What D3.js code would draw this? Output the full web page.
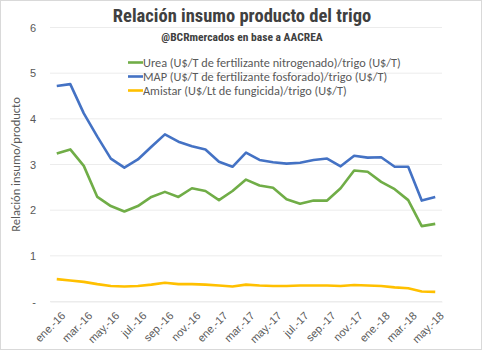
<!DOCTYPE html>
<html>
<head>
<meta charset="utf-8">
<script src="https://cdn.jsdelivr.net/npm/d3@7"></script>
<style>
  body { margin: 0; background: #fff; }
  svg { display: block; font-family: Carlito, Lato, "Open Sans", sans-serif; }
</style>
</head>
<body>
<svg id="chart"></svg>
<script>
// months ene-16 .. may-18
let months = ['ene.-16','feb.-16','mar.-16','abr.-16','may.-16','jun.-16','jul.-16','ago.-16','sep.-16','oct.-16','nov.-16','dic.-16',
  'ene.-17','feb.-17','mar.-17','abr.-17','may.-17','jun.-17','jul.-17','ago.-17','sep.-17','oct.-17','nov.-17','dic.-17',
  'ene.-18','feb.-18','mar.-18','abr.-18','may.-18']

let urea = [3.24,3.33,2.97,2.29,2.09,1.97,2.09,2.29,2.40,2.29,2.48,2.42,2.22,2.42,2.67,2.54,2.49,2.24,2.14,2.21,2.21,2.48,2.87,2.84,2.62,2.46,2.22,1.65,1.70]
let map = [4.72,4.76,4.12,3.61,3.13,2.93,3.11,3.39,3.66,3.50,3.40,3.33,3.06,2.95,3.26,3.10,3.05,3.02,3.04,3.10,3.13,2.96,3.19,3.15,3.16,2.95,2.95,2.21,2.29]
let amistar = [0.49,0.46,0.43,0.38,0.34,0.33,0.34,0.37,0.41,0.38,0.38,0.37,0.35,0.33,0.37,0.35,0.34,0.34,0.35,0.35,0.35,0.34,0.36,0.35,0.34,0.31,0.29,0.22,0.21]

let seriesNames = ['Urea (U$/T de fertilizante nitrogenado)/trigo (U$/T)',
  'MAP (U$/T de fertilizante fosforado)/trigo (U$/T)',
  'Amistar (U$/Lt de fungicida)/trigo (U$/T)']
let yTicks = [0,1,2,3,4,5,6]

let width = 484
let height = 351
let margin = {left: 50, right: 42, top: 27.5, bottom: 49.5}
let colors = ['#70AD47', '#4472C4', '#FFC000']

let svg = d3.select('#chart').attr('width', width).attr('height', height)

// outer border
svg.append('rect')
  .attr('x', 0.5).attr('y', 0.5)
  .attr('width', width - 3).attr('height', height - 2)
  .attr('fill', '#fff').attr('stroke', '#d9d9d9')

let xScale = d3.scalePoint()
  .domain(months)
  .range([margin.left, width - margin.right])
  .padding(0.5)

let yScale = d3.scaleLinear()
  .domain([0, 6])
  .range([height - margin.bottom, margin.top])

// gridlines
svg.append('g')
  .selectAll('line')
  .data(yTicks)
  .enter()
  .append('line')
  .attr('x1', margin.left)
  .attr('x2', width - margin.right)
  .attr('y1', d => yScale(d))
  .attr('y2', d => yScale(d))
  .attr('stroke', '#ececec')
  .attr('stroke-width', 1)

// y axis
let yAxis = d3.axisLeft(yScale)
  .tickValues(yTicks)
  .tickSize(0)
  .tickPadding(14)
  .tickFormat(d => d === 0 ? '-' : d)

let yG = svg.append('g')
  .attr('transform', 'translate(' + margin.left + ',0)')
  .call(yAxis)
yG.select('.domain').remove()
yG.selectAll('text').attr('fill', '#595959').style('font-size', '11px')

// x axis
let xAxis = d3.axisBottom(xScale)
  .tickValues(months.filter((m, i) => i % 2 === 0))
  .tickSize(0)

let xG = svg.append('g')
  .attr('transform', 'translate(0,' + (height - margin.bottom) + ')')
  .call(xAxis)
xG.select('.domain').attr('stroke', '#ececec')
xG.selectAll('text')
  .attr('fill', '#595959')
  .style('font-size', '11px')
  .attr('text-anchor', 'end')
  .attr('dy', '0.35em')
  .attr('transform', 'translate(4,10) rotate(-45)')

// y title
svg.append('text')
  .attr('transform', 'translate(20,' + ((margin.top + height - margin.bottom) / 2) + ') rotate(-90)')
  .attr('text-anchor', 'middle')
  .attr('fill', '#595959')
  .style('font-size', '12.5px')
  .text('Relación insumo/producto')

// lines
let line = d3.line()
  .x((d, i) => xScale(months[i]))
  .y(d => yScale(d))

let allSeries = [urea, map, amistar]
svg.append('g')
  .selectAll('path')
  .data(allSeries)
  .enter()
  .append('path')
  .attr('d', d => line(d))
  .attr('fill', 'none')
  .attr('stroke', (d, i) => colors[i])
  .attr('stroke-width', 2.6)
  .attr('stroke-linejoin', 'round')

// title
svg.append('text')
  .attr('x', 242).attr('y', 22)
  .attr('text-anchor', 'middle')
  .attr('fill', '#404040')
  .style('font-family', '"Liberation Sans Narrow", "Roboto Condensed", Roboto, sans-serif')
  .style('font-weight', 'bold')
  .style('font-size', '18.5px')
  .text('Relación insumo producto del trigo')

svg.append('text')
  .attr('x', 242).attr('y', 41)
  .attr('text-anchor', 'middle')
  .attr('fill', '#404040')
  .style('font-family', '"Liberation Sans Narrow", "Roboto Condensed", Roboto, sans-serif')
  .style('font-weight', 'bold')
  .style('font-size', '11.5px')
  .text('@BCRmercados en base a AACREA')

// legend
let legend = svg.append('g')
  .selectAll('g')
  .data(seriesNames)
  .enter()
  .append('g')
  .attr('transform', (d, i) => 'translate(128,' + (62.5 + i * 14) + ')')

legend.append('line')
  .attr('x1', 0).attr('x2', 15)
  .attr('stroke', (d, i) => colors[i])
  .attr('stroke-width', 2.6)

legend.append('text')
  .attr('x', 15)
  .attr('dy', '0.35em')
  .attr('fill', '#595959')
  .style('font-size', '12.3px')
  .text(d => d)
</script>
</body>
</html>
